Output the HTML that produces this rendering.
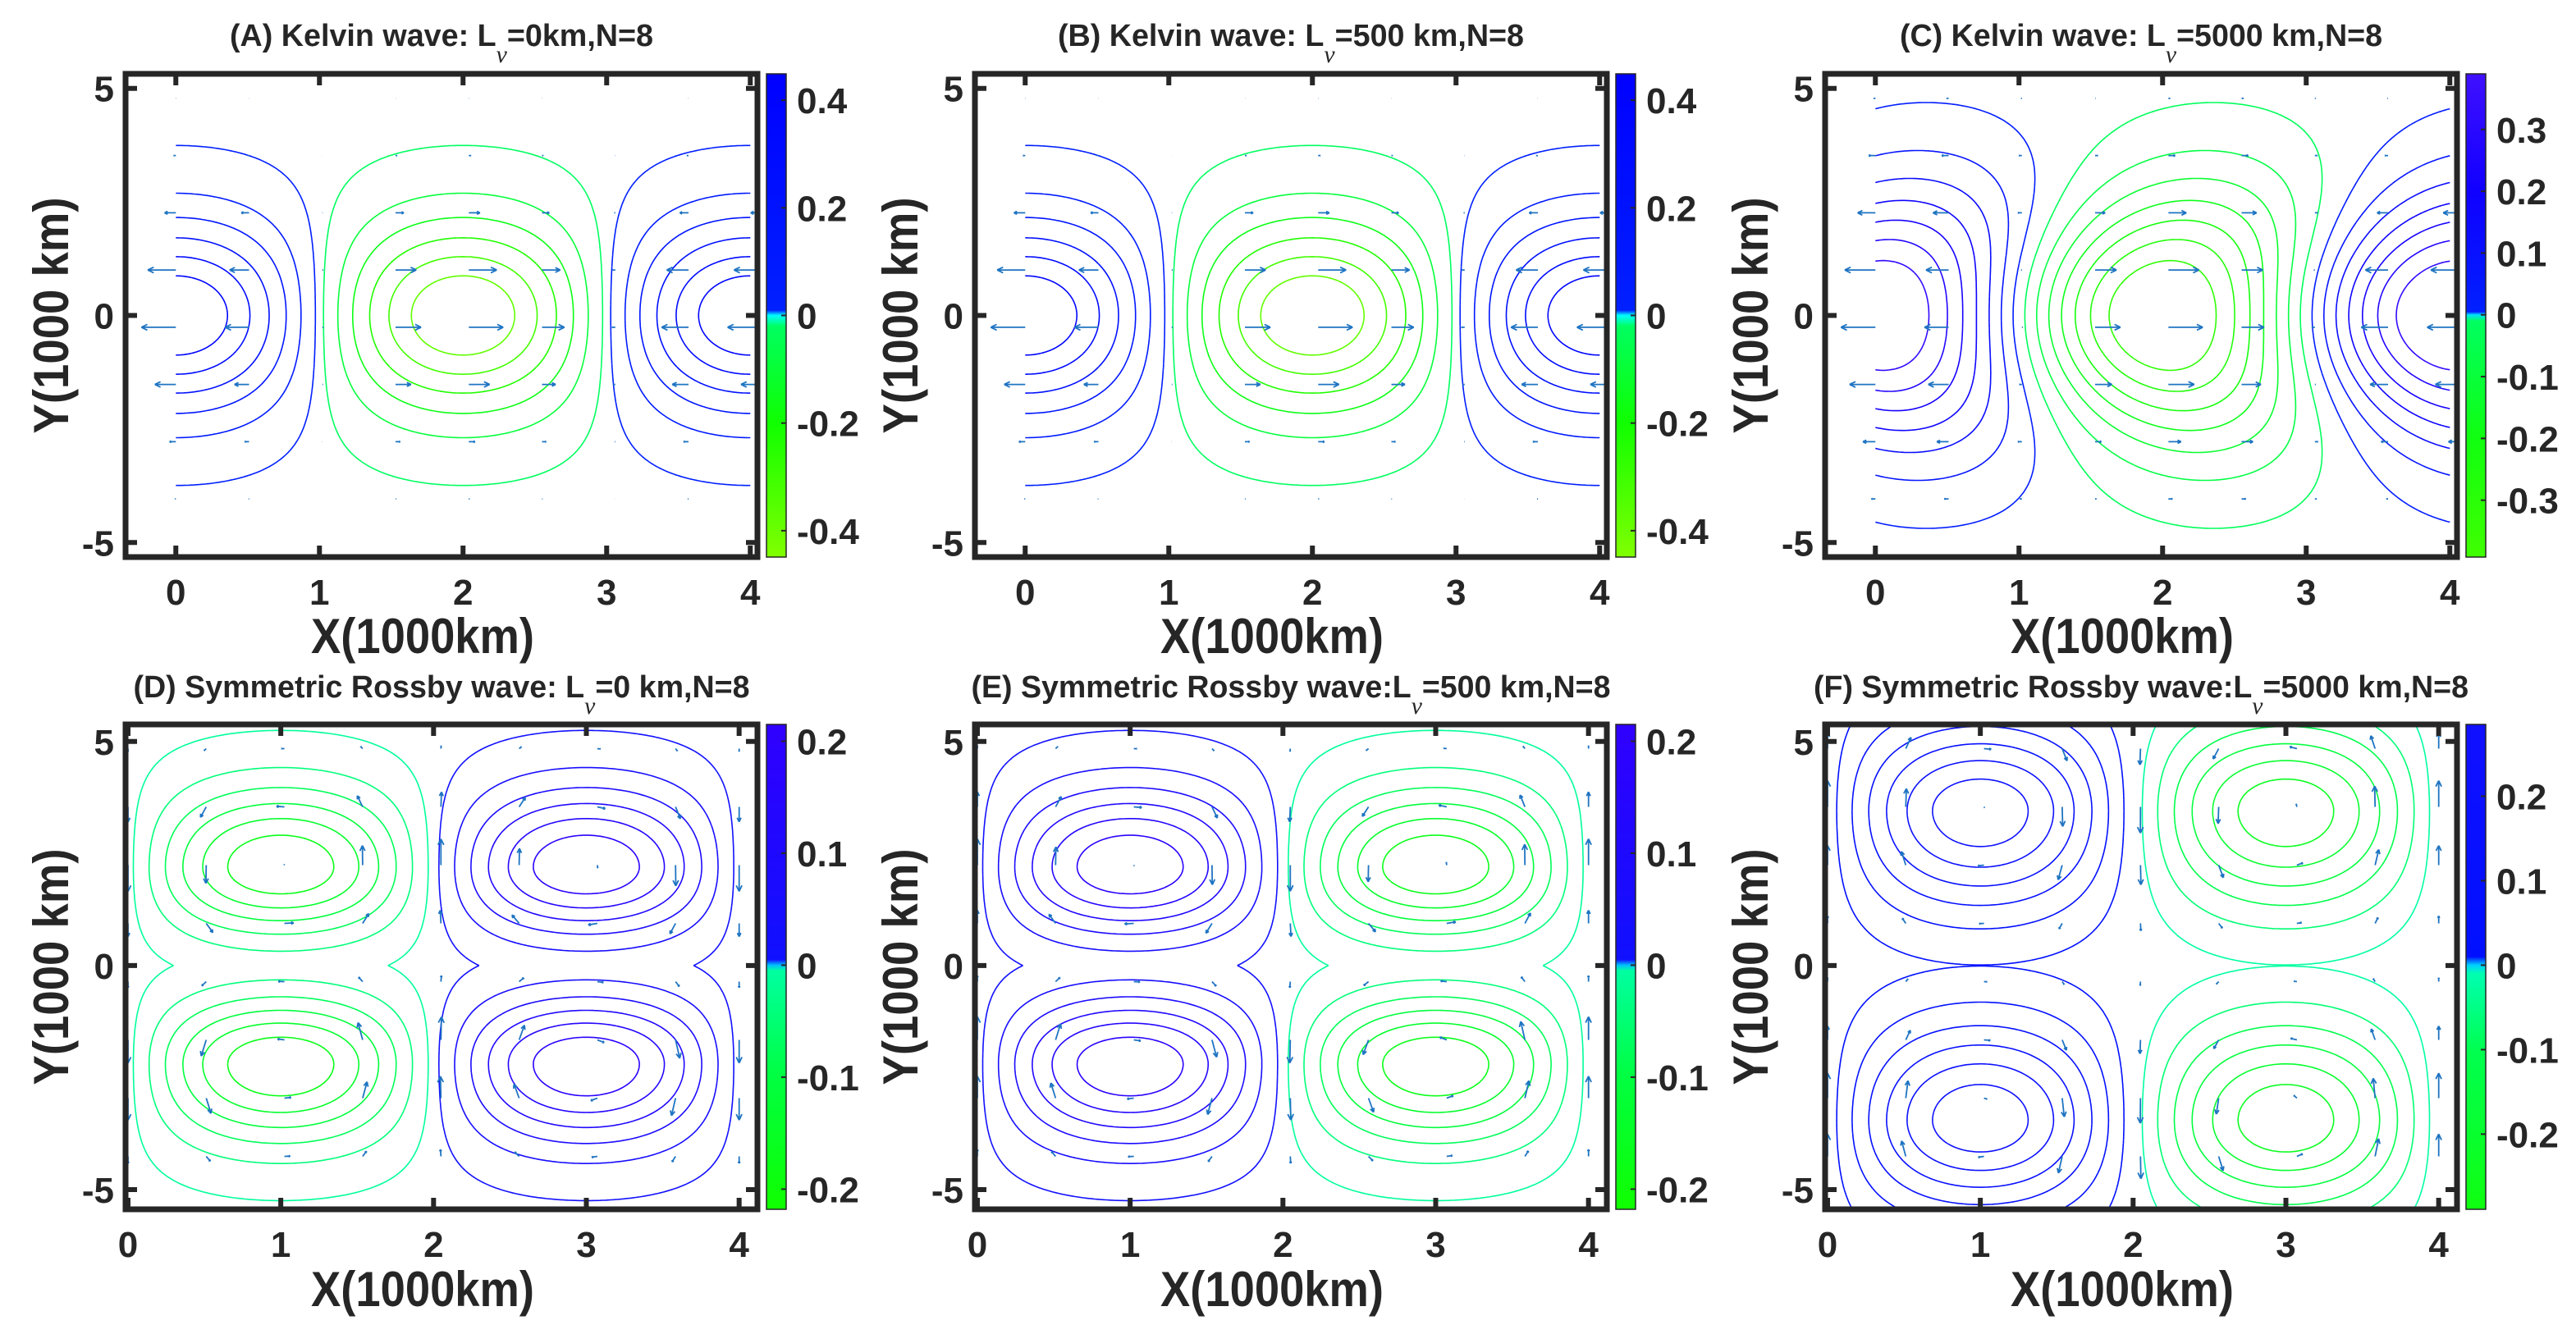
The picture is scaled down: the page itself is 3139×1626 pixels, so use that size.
<!DOCTYPE html>
<html><head><meta charset="utf-8"><title>Kelvin and Rossby wave contours</title>
<style>
html,body{margin:0;padding:0;background:#fff;}
svg{display:block;}
text{font-family:"Liberation Sans",Arial,sans-serif;fill:#262626;font-weight:bold;}
</style></head>
<body>
<svg id="fig" xmlns="http://www.w3.org/2000/svg" width="3139" height="1626" viewBox="0 0 3139 1626"></svg>
<script>
// ---- data ----
const panelTitlesPre = ["(A) Kelvin wave: L","(B) Kelvin wave: L","(C) Kelvin wave: L","(D) Symmetric Rossby wave: L","(E) Symmetric Rossby wave:L","(F) Symmetric Rossby wave:L"];
const panelTitlesPost = ["=0km,N=8","=500 km,N=8","=5000 km,N=8","=0 km,N=8","=500 km,N=8","=5000 km,N=8"];
const xTicks = [0,1,2,3,4];
const yTicks = [-5,0,5];
const kelvinAmp = [0.45,0.45,0.39];
const kelvinDecay = [4.5,4.5,8];
const kelvinShift = [0,0,0.4];
const rossbyAmp = [-0.2,0.2,0.27];
const rossbyCenter = [2.2,2.2,3.45];
const rossbyWOut = [3.2,3.2,4];
const rossbyWIn = [2.3,2.3,5];
const levelsAB = [0.02,0.09,0.16,0.235,0.31,0.38];
const levelsC = [0.025,0.075,0.125,0.175,0.225,0.275,0.325];
const levelsDE = [0.011,0.043,0.075,0.107,0.139,0.171];
const levelsF = [0.0254,0.0675,0.111,0.154,0.197,0.238];
const cbTicksAB = [-0.4,-0.2,0,0.2,0.4];
const cbTicksC = [-0.3,-0.2,-0.1,0,0.1,0.2,0.3];
const cbTicksDEF = [-0.2,-0.1,0,0.1,0.2];
const cbRangeAB = [-0.449,0.449];
const cbRangeC = [-0.392,0.39];
const cbRangeDE = [-0.218,0.215];
const cbRangeF = [-0.289,0.285];
const cmapAB = [[-0.449,'#80ff00'],[-0.2,'#10ff00'],[-0.02,'#00ff60'],[0,'#00ffff'],[0.01,'#0020ff'],[0.449,'#0000ff']];
const cmapC = [[-0.392,'#40ff00'],[-0.2,'#10ff10'],[-0.01,'#00ff60'],[0,'#00e0ff'],[0.005,'#0020ff'],[0.2,'#1000ff'],[0.39,'#4010ff']];
const cmapDE = [[-0.218,'#10ff00'],[-0.1,'#00ff40'],[-0.005,'#00ffa0'],[0,'#00c0ff'],[0.005,'#1010ff'],[0.215,'#3000ff']];
const cmapF = [[-0.289,'#10ff10'],[-0.1,'#00ff50'],[-0.01,'#00ffb0'],[0,'#00d0ff'],[0.01,'#0010ff'],[0.285,'#1010ff']];
const kelvinArrowXs = [0,0.51,1.02,1.53,2.04,2.55,3.06,3.57,4.08];
const kelvinArrowYs = [4.78,3.52,2.26,1.0,-0.26,-1.52,-2.78,-4.04];
const rossbyArrowXs = [0,0.512,1.024,1.536,2.048,2.56,3.072,3.584,4.0];
const rossbyArrowYs = [4.84,3.54,2.24,0.94,-0.36,-1.66,-2.96,-4.26];

// ---- drawing ----
const NS = "http://www.w3.org/2000/svg";
const svg = document.getElementById('fig');
function mk(tag, parent){ const e = document.createElementNS(NS, tag); parent.appendChild(e); return e; }
function hex2rgb(h){ return [parseInt(h.substr(1,2),16),parseInt(h.substr(3,2),16),parseInt(h.substr(5,2),16)]; }
function cmapColor(cm, v){
  if (v <= cm[0][0]) return cm[0][1];
  for (let i=1;i<cm.length;i++){
    if (v <= cm[i][0]){
      const t=(v-cm[i-1][0])/(cm[i][0]-cm[i-1][0]);
      const a=hex2rgb(cm[i-1][1]), b=hex2rgb(cm[i][1]);
      return 'rgb('+a.map((c,k)=>Math.round(c+(b[k]-c)*t)).join(',')+')';
    }
  }
  return cm[cm.length-1][1];
}
const defs = mk('defs', svg);
const colLeft = [153,1188,2224];
const titleWidths = [516,568,588,751,779,798];

for (let p=0;p<6;p++){
  const col=p%3, row=Math.floor(p/3), kel=row===0;
  const boxL=colLeft[col], boxR=boxL+770, boxT=kel?90:883, boxB=kel?679:1474;
  const xr = kel?[-0.35,4.05]:[-0.016,4.12];
  const yr = kel?[-5.32,5.32]:[-5.44,5.38];
  const sx = x => boxL+(x-xr[0])/(xr[1]-xr[0])*(boxR-boxL);
  const sy = y => boxB-(y-yr[0])/(yr[1]-yr[0])*(boxB-boxT);
  const k = col;
  let field;
  if (kel){
    field = (x,y) => { const s = kelvinShift[k]*(1-Math.exp(-y*y/10)); return kelvinAmp[k]*Math.exp(-y*y/kelvinDecay[k])*Math.cos(Math.PI*(x-s)/2); };
  } else {
    field = (x,y) => { const a=Math.abs(y), d=a-rossbyCenter[k], w=a>rossbyCenter[k]?rossbyWOut[k]:rossbyWIn[k]; return rossbyAmp[k]*Math.sin(Math.PI*x/2)*Math.exp(-d*d/w); };
  }
  const lv = kel?(col===2?levelsC:levelsAB):(col===2?levelsF:levelsDE);
  const cm = kel?(col===2?cmapC:cmapAB):(col===2?cmapF:cmapDE);
  const cbr = kel?(col===2?cbRangeC:cbRangeAB):(col===2?cbRangeF:cbRangeDE);
  const cbt = kel?(col===2?cbTicksC:cbTicksAB):cbTicksDEF;
  const dom = kel?[0,4,-5.3,5.3]:[0,4.02,-5.4,5.4];

  const g = mk('g', svg);
  
  

  const clip = mk('clipPath', defs);
  clip.setAttribute('id','clip'+p);
  const cr = mk('rect', clip);
  cr.setAttribute('x',boxL); cr.setAttribute('y',boxT); cr.setAttribute('width',boxR-boxL); cr.setAttribute('height',boxB-boxT);

  const cg = mk('g', g);
  
  
  cg.setAttribute('clip-path','url(#clip'+p+')');
  const nx=220, ny=280;
  const gx=[], gy=[];
  for(let i=0;i<=nx;i++) gx.push(dom[0]+(dom[1]-dom[0])*i/nx);
  for(let j=0;j<=ny;j++) gy.push(dom[2]+(dom[3]-dom[2])*j/ny);
  const F=[];
  for(let i=0;i<=nx;i++){ const r=[]; for(let j=0;j<=ny;j++) r.push(field(gx[i],gy[j])); F.push(r); }
  const allLevels=[];
  lv.forEach(v=>{allLevels.push(v); allLevels.push(-v);});
  allLevels.forEach(L=>{
    let d='';
    for(let i=0;i<nx;i++) for(let j=0;j<ny;j++){
      const v=[F[i][j]-L,F[i+1][j]-L,F[i+1][j+1]-L,F[i][j+1]-L];
      const cx=[gx[i],gx[i+1],gx[i+1],gx[i]], cy=[gy[j],gy[j],gy[j+1],gy[j+1]];
      const pts=[];
      for(let e=0;e<4;e++){
        const a=e,b=(e+1)%4;
        if((v[a]>0)!==(v[b]>0)){
          const t=v[a]/(v[a]-v[b]);
          pts.push([sx(cx[a]+(cx[b]-cx[a])*t), sy(cy[a]+(cy[b]-cy[a])*t)]);
        }
      }
      if(pts.length===2){
        d+='M'+pts[0][0].toFixed(1)+' '+pts[0][1].toFixed(1)+'L'+pts[1][0].toFixed(1)+' '+pts[1][1].toFixed(1);
      } else if(pts.length===4){
        const c=(v[0]+v[1]+v[2]+v[3])/4;
        const pr=((c>0)===(v[0]>0))?[[0,1],[2,3]]:[[0,3],[1,2]];
        pr.forEach(q=>{d+='M'+pts[q[0]][0].toFixed(1)+' '+pts[q[0]][1].toFixed(1)+'L'+pts[q[1]][0].toFixed(1)+' '+pts[q[1]][1].toFixed(1);});
      }
    }
    if(d){
      const path=mk('path', cg);
      
      
      path.setAttribute('d',d);
      path.setAttribute('fill','none');
      path.setAttribute('stroke',cmapColor(cm,L));
      path.setAttribute('stroke-width','1.6');
    }
  });

  const ag = mk('g', g);
  
  
  ag.setAttribute('clip-path','url(#clip'+p+')');
  const axs = kel?kelvinArrowXs:rossbyArrowXs, ays = kel?kelvinArrowYs:rossbyArrowYs;
  const vecs=[]; let vmax=0;
  axs.forEach(x=>ays.forEach(y=>{
    let u,v;
    if(kel){ u=-field(x,y); v=0; }
    else { const h=0.01; u=-(field(x,y+h)-field(x,y-h))/(2*h); v=(field(x+h,y)-field(x-h,y))/(2*h); }
    const m=Math.hypot(u,v); if(m>vmax) vmax=m;
    vecs.push([x,y,u,v]);
  }));
  const maxLen = kel?42:32;
  vecs.forEach(q=>{
    const x0=sx(q[0]), y0=sy(q[1]);
    const dx=q[2]/vmax*maxLen, dy=-q[3]/vmax*maxLen;
    const len=Math.hypot(dx,dy);
    let d='M'+x0.toFixed(1)+' '+y0.toFixed(1)+'l'+dx.toFixed(1)+' '+dy.toFixed(1);
    if(len>2){
      const hl=Math.min(8,len*0.3), ang=Math.atan2(dy,dx), x1=x0+dx, y1=y0+dy;
      [0.45,-0.45].forEach(s=>{ d+='M'+x1.toFixed(1)+' '+y1.toFixed(1)+'L'+(x1-hl*Math.cos(ang+s)).toFixed(1)+' '+(y1-hl*Math.sin(ang+s)).toFixed(1); });
    }
    const a=mk('path', ag);
    
    
    a.setAttribute('d',d);
    a.setAttribute('stroke','#1f74c2');
    a.setAttribute('stroke-width','1.8');
    a.setAttribute('fill','none');
  });

  const fr=mk('rect', g);
  
  
  fr.setAttribute('x',boxL); fr.setAttribute('y',boxT); fr.setAttribute('width',boxR-boxL); fr.setAttribute('height',boxB-boxT);
  fr.setAttribute('fill','none'); fr.setAttribute('stroke','#262626'); fr.setAttribute('stroke-width','7');
  let td='';
  xTicks.forEach(t=>{ const X=sx(t); td+='M'+X+' '+boxB+'v-14M'+X+' '+boxT+'v14'; });
  yTicks.forEach(t=>{ const Y=sy(t); td+='M'+boxL+' '+Y+'h14M'+boxR+' '+Y+'h-14'; });
  const tp=mk('path', g);
  
  
  tp.setAttribute('d',td); tp.setAttribute('stroke','#262626'); tp.setAttribute('stroke-width','6');

  xTicks.forEach(t=>{
    const tx=mk('text', g);
    
    
    tx.setAttribute('x',sx(t)); tx.setAttribute('y',kel?737:1532);
    tx.setAttribute('text-anchor','middle'); tx.setAttribute('font-size','44');
    tx.textContent=String(t);
  });
  yTicks.forEach(t=>{
    const tx=mk('text', g);
    
    
    tx.setAttribute('x',boxL-14); tx.setAttribute('y',sy(t)+16);
    tx.setAttribute('text-anchor','end'); tx.setAttribute('font-size','44');
    tx.textContent=String(t);
  });
  const xl=mk('text', g);
  
  
  xl.setAttribute('x',boxL+362); xl.setAttribute('y',kel?796:1592);
  xl.setAttribute('text-anchor','middle'); xl.setAttribute('font-size','60');
  xl.setAttribute('textLength','272'); xl.setAttribute('lengthAdjust','spacingAndGlyphs');
  xl.textContent='X(1000km)';
  const yl=mk('text', g);
  
  
  const ycx=boxL-70, ycy=(boxT+boxB)/2;
  yl.setAttribute('x',ycx); yl.setAttribute('y',ycy);
  yl.setAttribute('transform','rotate(-90 '+ycx+' '+ycy+')');
  yl.setAttribute('text-anchor','middle'); yl.setAttribute('font-size','60');
  yl.setAttribute('textLength','288'); yl.setAttribute('lengthAdjust','spacingAndGlyphs');
  yl.textContent='Y(1000 km)';

  const tt=mk('text', g);
  
  
  tt.setAttribute('x',boxL+385); tt.setAttribute('y',kel?56:850);
  tt.setAttribute('text-anchor','middle'); tt.setAttribute('font-size','38');
  tt.setAttribute('textLength',titleWidths[p]); tt.setAttribute('lengthAdjust','spacingAndGlyphs');
  const t1=mk('tspan', tt); t1.textContent=panelTitlesPre[p];
  const t2=mk('tspan', tt); t2.setAttribute('dy','20'); t2.setAttribute('font-size','30'); t2.setAttribute('font-style','italic'); t2.setAttribute('font-weight','normal'); t2.setAttribute('font-family','"Liberation Serif",serif'); t2.textContent='ν';
  const t3=mk('tspan', tt); t3.setAttribute('dy','-20'); t3.textContent=panelTitlesPost[p];

  const cbx=boxR+11, cbw=24;
  const gr=mk('linearGradient', defs);
  gr.setAttribute('id','cb'+p); gr.setAttribute('x1','0'); gr.setAttribute('y1','1'); gr.setAttribute('x2','0'); gr.setAttribute('y2','0');
  cm.forEach(s=>{ const st=mk('stop', gr); st.setAttribute('offset',((s[0]-cbr[0])/(cbr[1]-cbr[0])).toFixed(4)); st.setAttribute('stop-color',s[1]); });
  const cbs = v => boxB-(v-cbr[0])/(cbr[1]-cbr[0])*(boxB-boxT);
  const cb=mk('rect', g);
  
  
  cb.setAttribute('x',cbx); cb.setAttribute('y',boxT); cb.setAttribute('width',cbw); cb.setAttribute('height',boxB-boxT);
  cb.setAttribute('fill','url(#cb'+p+')'); cb.setAttribute('stroke','#262626'); cb.setAttribute('stroke-width','1.5');
  cbt.forEach(t=>{
    const Y=cbs(t);
    const tk=mk('path', g);
    
    
    tk.setAttribute('d','M'+(cbx+cbw)+' '+Y+'h-6'); tk.setAttribute('stroke','#262626'); tk.setAttribute('stroke-width','2');
    const tl=mk('text', g);
    
    
    tl.setAttribute('x',cbx+cbw+13); tl.setAttribute('y',Y+16); tl.setAttribute('font-size','44');
    tl.textContent = t===0?'0':t.toFixed(1);
  });
}
</script>
</body></html>
